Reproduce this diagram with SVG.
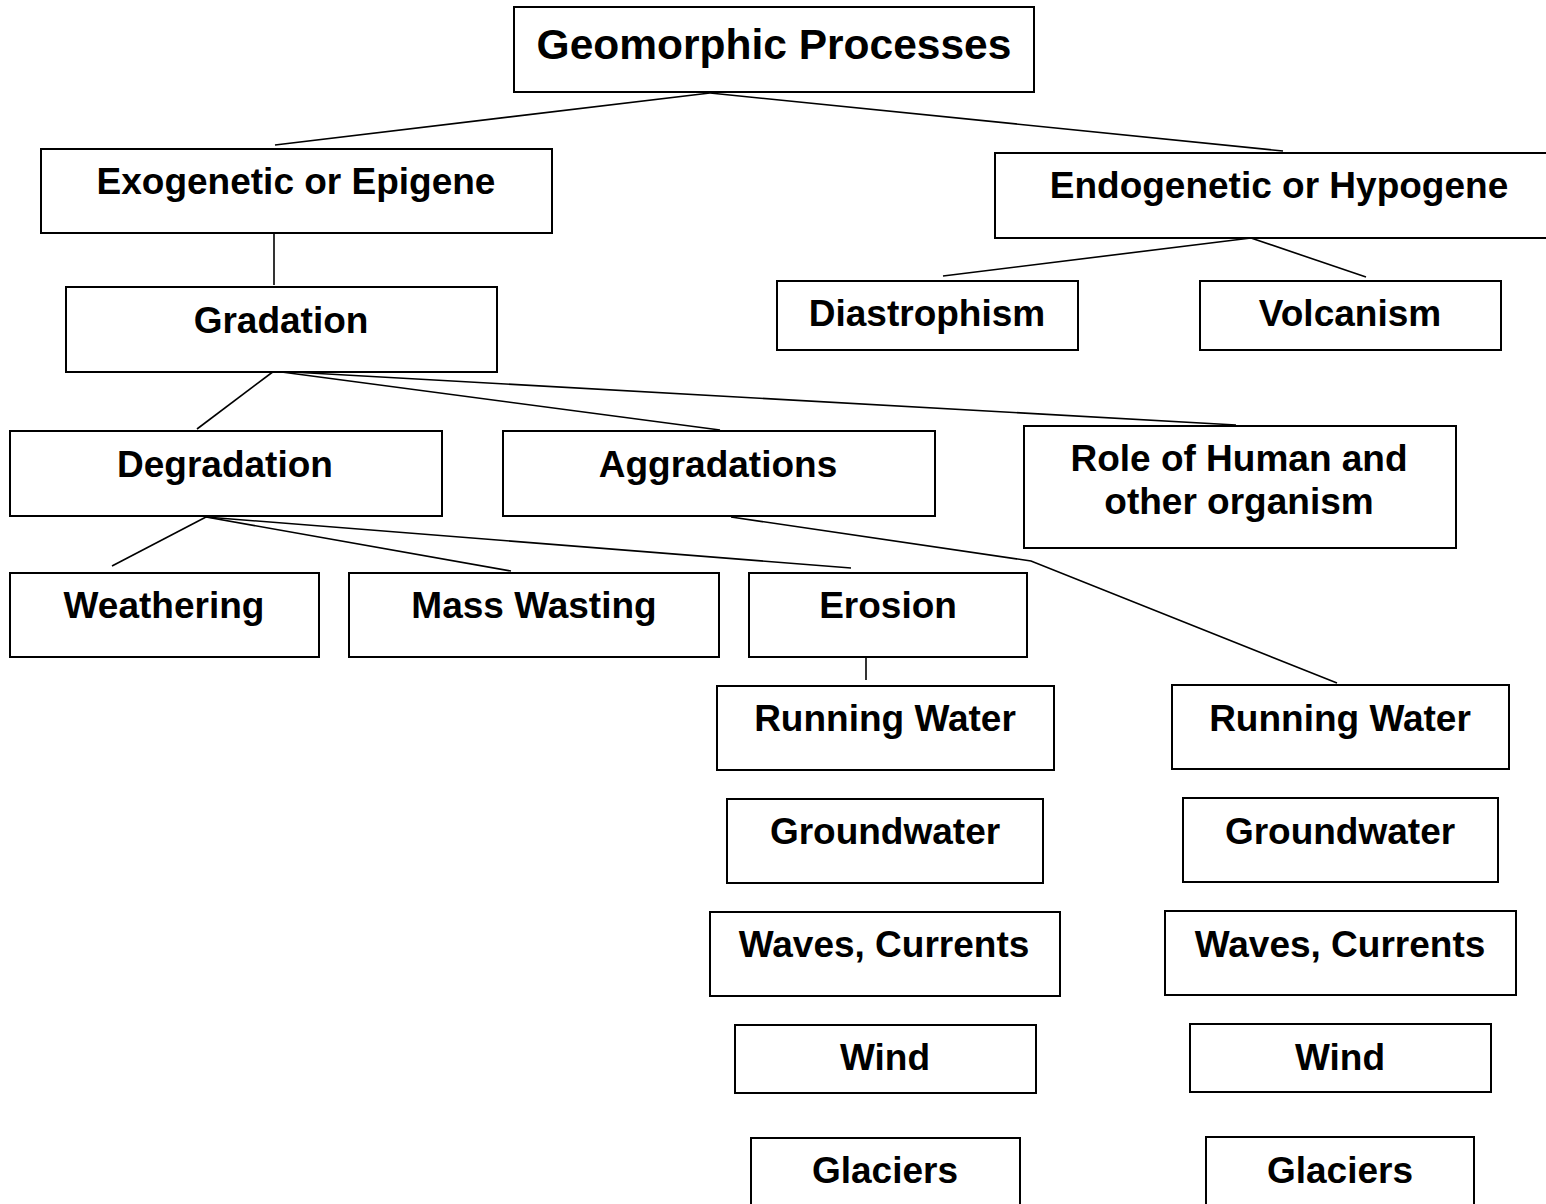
<svg xmlns="http://www.w3.org/2000/svg" width="1546" height="1204" viewBox="0 0 1546 1204">
<style>
rect{fill:#fff;stroke:#000;stroke-width:2}
text{font-family:"Liberation Sans",Arial,sans-serif;font-weight:bold;font-size:37px;text-anchor:middle;fill:#000}
.c line,.c polyline{stroke:#000;stroke-width:1.6;fill:none}
</style>
<rect x="0" y="0" width="1546" height="1204" style="stroke:none"/>
<g class="c" id="connectors">
<line x1="710" y1="93" x2="275" y2="145"/>
<line x1="710" y1="93" x2="1283" y2="151"/>
<line x1="274" y1="233" x2="274" y2="285"/>
<line x1="1251" y1="238" x2="943" y2="276"/>
<line x1="1251" y1="238" x2="1366" y2="277"/>
<line x1="274" y1="371" x2="197" y2="429"/>
<line x1="274" y1="371" x2="720" y2="430"/>
<line x1="274" y1="371" x2="1236" y2="425"/>
<line x1="206" y1="517" x2="112" y2="566"/>
<line x1="206" y1="517" x2="511" y2="571"/>
<line x1="206" y1="517" x2="851" y2="568"/>
<line x1="866" y1="657" x2="866" y2="680"/>
<polyline points="731,517 1031,561 1337,683"/>
</g>
<g id="n-geomorphic"><rect x="514" y="7" width="520" height="85"/><text x="774" y="59" style="font-size:42.5px">Geomorphic Processes</text></g>
<g id="n-exogenetic"><rect x="41" y="149" width="511" height="84"/><text x="296" y="194">Exogenetic or Epigene</text></g>
<g id="n-endogenetic"><rect x="995" y="153" width="560" height="85"/><text x="1279" y="198">Endogenetic or Hypogene</text></g>
<g id="n-gradation"><rect x="66" y="287" width="431" height="85"/><text x="281" y="333">Gradation</text></g>
<g id="n-diastrophism"><rect x="777" y="281" width="301" height="69"/><text x="927" y="326">Diastrophism</text></g>
<g id="n-volcanism"><rect x="1200" y="281" width="301" height="69"/><text x="1350" y="326">Volcanism</text></g>
<g id="n-degradation"><rect x="10" y="431" width="432" height="85"/><text x="225" y="477">Degradation</text></g>
<g id="n-aggradations"><rect x="503" y="431" width="432" height="85"/><text x="718" y="477">Aggradations</text></g>
<g id="n-role"><rect x="1024" y="426" width="432" height="122"/><text x="1239" y="471">Role of Human and</text><text x="1239" y="514">other organism</text></g>
<g id="n-weathering"><rect x="10" y="573" width="309" height="84"/><text x="164" y="618">Weathering</text></g>
<g id="n-masswasting"><rect x="349" y="573" width="370" height="84"/><text x="534" y="618">Mass Wasting</text></g>
<g id="n-erosion"><rect x="749" y="573" width="278" height="84"/><text x="888" y="618">Erosion</text></g>
<g id="n-running-l"><rect x="717" y="686" width="337" height="84"/><text x="885" y="731">Running Water</text></g>
<g id="n-ground-l"><rect x="727" y="799" width="316" height="84"/><text x="885" y="844">Groundwater</text></g>
<g id="n-waves-l"><rect x="710" y="912" width="350" height="84"/><text x="884" y="957">Waves, Currents</text></g>
<g id="n-wind-l"><rect x="735" y="1025" width="301" height="68"/><text x="885" y="1070">Wind</text></g>
<g id="n-glaciers-l"><rect x="751" y="1138" width="269" height="80"/><text x="885" y="1183">Glaciers</text></g>
<g id="n-running-r"><rect x="1172" y="685" width="337" height="84"/><text x="1340" y="731">Running Water</text></g>
<g id="n-ground-r"><rect x="1183" y="798" width="315" height="84"/><text x="1340" y="844">Groundwater</text></g>
<g id="n-waves-r"><rect x="1165" y="911" width="351" height="84"/><text x="1340" y="957">Waves, Currents</text></g>
<g id="n-wind-r"><rect x="1190" y="1024" width="301" height="68"/><text x="1340" y="1070">Wind</text></g>
<g id="n-glaciers-r"><rect x="1206" y="1137" width="268" height="80"/><text x="1340" y="1183">Glaciers</text></g>
</svg>
